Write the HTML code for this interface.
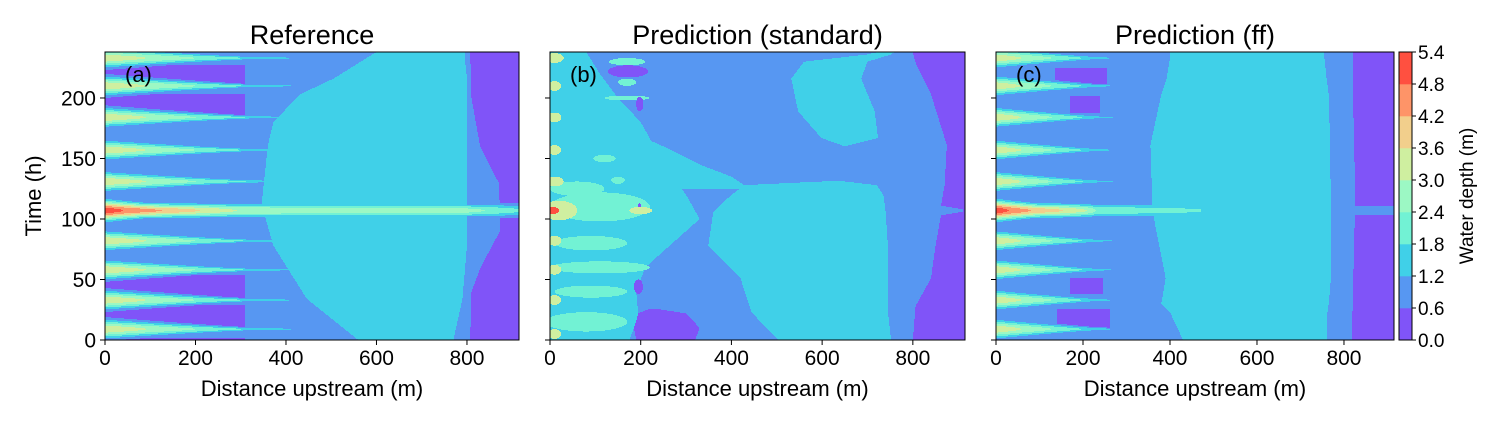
<!DOCTYPE html>
<html><head><meta charset="utf-8">
<style>
html,body{margin:0;padding:0;background:#fff;}
svg{display:block;font-family:"Liberation Sans","DejaVu Sans",sans-serif;}
</style></head>
<body>
<svg id="fig" width="1500" height="425" viewBox="0 0 1500 425" xmlns="http://www.w3.org/2000/svg"></svg>
<script>
// ---- data ----
const levelBounds=[0,0.6,1.2,1.8,2.4,3.0,3.6,4.2,4.8,5.4];
const levelColors=["#8054f8","#5797f2","#40d0e8","#72f2d4","#9cf8c4","#cfefa0","#f2cf8c","#fe9468","#ff5040"];
const xTicks=[0,200,400,600,800];
const yTicks=[0,50,100,150,200];
const panelTitles=["Reference","Prediction (standard)","Prediction (ff)"];
const panelTags=["(a)","(b)","(c)"];

// panel a
const aPulseTimes=[9,33,58,82,107,131,157,184,210,233];
const aPulsePeaks=[3.5,3.5,3.5,3.5,0,3.5,3.5,3.5,3.5,3.5];
const aBigTime=107;
const aBigXs=[0,40,125,210,291,800,870,915];
const aBigVals=[5.3,4.8,4.2,3.6,3.0,2.65,2.2,1.9];
const aCyanT=[0,34,78,112,161,180,203,216,233,238];
const aCyanL=[560,446,372,346,360,372,431,505,578,600];
const aCyanR=[770,790,800,800,800,800,800,800,795,795];
const aPurpT=[0,40,60,90,106,108,130,160,200,238];
const aPurpL=[807,810,830,873,873,873,870,829,810,807];
const aLeftPurpleBands=[[0,2],[10,29],[35,54],[185,203],[208,227]];

// panel c
const cPulseTimes=[9,33,58,82,107,131,157,184,210,233];
const cPulsePeaks=[3.5,3.5,3.5,3.5,0,3.5,3.5,3.5,3.5,3.5];
const cBigTime=107;
const cBigXs=[0,30,80,155,210,230,470,490];
const cBigVals=[5.3,4.8,4.2,3.6,3.0,2.4,1.9,1.0];
const cCyanT=[0,23,30,51,106,161,203,216,233,238];
const cCyanL=[430,400,380,390,360,355,380,392,400,400];
const cCyanR=[760,762,765,770,770,768,765,760,755,755];
const cPurpT=[0,60,120,180,238];
const cPurpL=[818,822,826,822,820];
const cLeftPurple=[[211,225,136,255],[188,202,170,239],[38,51,170,245],[9,26,140,262]];

// panel b
const bCyanBodyT=[0,23,51,78,106,120,128,131];
const bCyanBodyL=[503,444,420,349,360,400,430,600];
const bCyanBodyR=[752,745,745,745,740,735,720,650];
const bCyanUrT=[160,167,189,216,230,236,238];
const bCyanUrL=[650,598,547,532,560,700,723];
const bCyanUrR=[650,723,716,686,700,752,760];
const bCyanLeftT=[0,20,40,60,80,100,120,140,160,180,200,220,238];
const bCyanLeftR=[175,195,190,210,270,330,300,260,230,200,150,110,80];
const bStreakT=[125,135,145,160,175,185];
const bStreakL=[250,200,150,100,50,0];
const bStreakR=[440,400,330,250,160,60];
const bPurpLowT=[0,10,22,26];
const bPurpLowL=[190,185,195,220];
const bPurpLowR=[320,330,300,230];
const bPurpT=[0,28,51,78,103,106,108,111,128,161,203,230,238];
const bPurpL=[800,806,840,850,862,910,910,862,870,875,840,805,800];
// blobs: [time, dist, halfTime, halfDist, depth]
const bBlobs=[[110,110,12,110,2.1],[125,60,6,60,2.1],[80,90,6,80,2.1],[60,110,5,110,2.1],[40,90,5,80,2.1],[15,80,8,90,2.1],
[230,170,3,40,2.1],[213,170,3,20,2.1],[200,170,2,50,2.1],[150,120,3,25,2.1],[132,150,3,15,2.1],
[222,172,5,44,0.3],[195,198,6,8,0.3],[44,195,6,10,0.3],[110,197,3,4,0.3],
[107,200,3,25,3.3],[5,10,4,15,3.3],[233,10,4,20,3.3],[210,10,4,15,3.3],[184,10,4,15,3.3],[157,10,4,15,3.3],[131,10,4,20,3.3],[82,10,4,15,3.3],[58,10,4,15,3.3],[33,10,4,15,3.3],
[107,20,8,40,3.3],[107,5,3,15,5.0]];

// ---- geometry ----
const PY0=52,PH=288,TMAX=238;
const panels=[{x0:105,w:414},{x0:550,w:415},{x0:996,w:398}];
const XMAX=915;
function interp(xs,vs,x){if(x<=xs[0])return vs[0];for(let i=1;i<xs.length;i++){if(x<=xs[i]){const f=(x-xs[i-1])/(xs[i]-xs[i-1]);return vs[i-1]+f*(vs[i]-vs[i-1]);}}return vs[vs.length-1];}
function inLayer(T,L,R,t,x){if(t<T[0]||t>T[T.length-1])return false;return x>=interp(T,L,t)&&x<=interp(T,R,t);}
function pulseVal(times,peaks,bigT,bigXs,bigVals,reach,rw,t,x){
 let v=0;
 for(let i=0;i<times.length;i++){
  const dt=t-times[i];
  let A,w;
  if(times[i]===bigT){A=interp(bigXs,bigVals,x);w=Math.max(5.5,8*(1-x/300));}
  else{A=peaks[i]*(1-x/reach);w=Math.max(1.5,7.5*(1-x/rw));}
  if(A<=0)continue;
  const pv=A*Math.exp(-(dt/w)*(dt/w));
  if(pv>v)v=pv;
 }
 return v;
}
function fieldA(t,x){
 let v=0.9;
 for(const b of aLeftPurpleBands){if(t>=b[0]&&t<=b[1]&&x<=310)v=0.3;}
 if(inLayer(aCyanT,aCyanL,aCyanR,t,x))v=1.5;
 if(t>=aPurpT[0]&&x>=interp(aPurpT,aPurpL,t))v=0.3;
 const p=pulseVal(aPulseTimes,aPulsePeaks,aBigTime,aBigXs,aBigVals,640,400,t,x);
 if(p>=0.6&&p>v)v=p;
 return v;
}
function fieldC(t,x){
 let v=0.9;
 for(const b of cLeftPurple){if(t>=b[0]&&t<=b[1]&&x>=b[2]&&x<=b[3])v=0.3;}
 if(inLayer(cCyanT,cCyanL,cCyanR,t,x))v=1.5;
 if(x>=interp(cPurpT,cPurpL,t))v=0.3;
 const p=pulseVal(cPulseTimes,cPulsePeaks,cBigTime,cBigXs,cBigVals,410,300,t,x);
 if(p>=0.6&&p>v)v=p;
 return v;
}
function fieldB(t,x){
 let v=0.9;
 if(t<=238&&x<=interp(bCyanLeftT,bCyanLeftR,t))v=1.5;
 if(inLayer(bStreakT,bStreakL,bStreakR,t,x))v=1.5;
 if(inLayer(bCyanBodyT,bCyanBodyL,bCyanBodyR,t,x))v=1.5;
 if(inLayer(bCyanUrT,bCyanUrL,bCyanUrR,t,x))v=1.5;
 if(inLayer(bPurpLowT,bPurpLowL,bPurpLowR,t,x))v=0.3;
 if(x>=interp(bPurpT,bPurpL,t))v=0.3;
 for(const b of bBlobs){const d=((t-b[0])/b[2])**2+((x-b[1])/b[3])**2;if(d<=1)v=b[4];}
 return v;
}
const fields=[fieldA,fieldB,fieldC];
function lev(v){let k=Math.floor(v/0.6);return Math.max(0,Math.min(8,k));}

const NS="http://www.w3.org/2000/svg";
const svg=document.getElementById('fig');
function mk(tag,attrs,parent){const e=document.createElementNS(NS,tag);for(const k in attrs)e.setAttribute(k,attrs[k]);(parent||svg).appendChild(e);return e;}
function yOf(t){return PY0+PH-t*(PH/TMAX);}

panels.forEach((P,pi)=>{
 const g=mk('g',{});
 
 
 const sx=P.w/XMAX;
 for(let py=0;py<PH;py++){
  const t=(PH-py-0.5)*(TMAX/PH);
  let start=0,cur=-1;
  for(let px=0;px<=P.w;px++){
   const k=px<P.w?lev(fields[pi](t,(px+0.5)/sx)):-2;
   if(k!==cur){
    if(cur>=0){const r=mk('rect',{x:P.x0+start,y:PY0+py,width:px-start,height:1.05,fill:levelColors[cur]},g);
     
     }
    cur=k;start=px;
   }
  }
 }
 const fr=mk('rect',{x:P.x0,y:PY0,width:P.w,height:PH,fill:'none',stroke:'#000','stroke-width':1});
 
 
 xTicks.forEach(v=>{
  const x=P.x0+v*sx;
  const tk=mk('line',{x1:x,x2:x,y1:PY0+PH,y2:PY0+PH+5,stroke:'#000'});
  
  
  const tl=mk('text',{x:x,y:PY0+PH+25,'font-size':21,'text-anchor':'middle'});tl.textContent=v;
  
  
 });
 yTicks.forEach(v=>{
  const y=yOf(v);
  const tk=mk('line',{x1:P.x0-5,x2:P.x0,y1:y,y2:y,stroke:'#000'});
  
  
  if(pi===0){const tl=mk('text',{x:P.x0-9,y:y+7.5,'font-size':21,'text-anchor':'end'});tl.textContent=v;
   
   }
 });
 const xl=mk('text',{x:P.x0+P.w/2,y:396,'font-size':22,'text-anchor':'middle'});xl.textContent='Distance upstream (m)';
 
 
 const ti=mk('text',{x:P.x0+P.w/2,y:44,'font-size':27,'text-anchor':'middle'});ti.textContent=panelTitles[pi];
 
 
 const tg=mk('text',{x:P.x0+20,y:82,'font-size':22});tg.textContent=panelTags[pi];
 
 
});
const yl=mk('text',{x:0,y:0,'font-size':22,'text-anchor':'middle',transform:'translate(41,196) rotate(-90)'});yl.textContent='Time (h)';



// colorbar
const cb=mk('g',{});


const CBX=1399,CBW=13,segH=PH/levelColors.length;
levelColors.forEach((c,i)=>{
 const r=mk('rect',{x:CBX,y:PY0+PH-(i+1)*segH,width:CBW,height:segH+0.3,fill:c},cb);
 
 
});
mk('rect',{x:CBX,y:PY0,width:CBW,height:PH,fill:'none',stroke:'#000','stroke-width':1},cb);
levelBounds.forEach((v,i)=>{
 const y=PY0+PH-i*segH;
 mk('line',{x1:CBX+CBW,x2:CBX+CBW+4,y1:y,y2:y,stroke:'#000'},cb);
 const t=mk('text',{x:CBX+CBW+6,y:y+7,'font-size':19},cb);t.textContent=v.toFixed(1);
 
 
});
const cl=mk('text',{x:0,y:0,'font-size':19,'text-anchor':'middle',transform:'translate(1473,196) rotate(-90)'},cb);cl.textContent='Water depth (m)';


</script>
</body></html>
